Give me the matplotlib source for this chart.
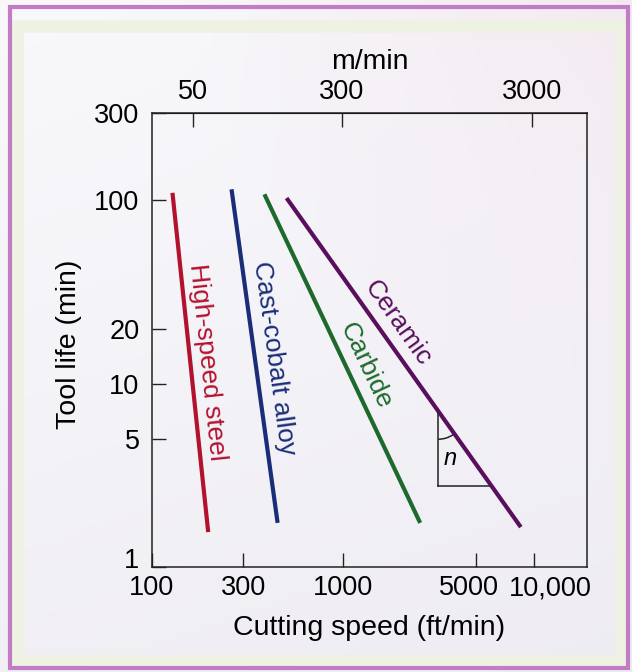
import numpy as np
import matplotlib
matplotlib.use('Agg')
import matplotlib.pyplot as plt
from matplotlib.patches import Rectangle, Arc
from matplotlib import transforms

plt.rcParams['font.family'] = ['Liberation Sans', 'DejaVu Sans']

# Taylor tool-life lines: (speed ft/min, life min) end points
materials = ['High-speed steel', 'Cast-cobalt alloy', 'Carbide', 'Ceramic']
colors = ['#b3122f', '#1b2d78', '#1d6a2c', '#5a0f5c']
speed_top = [128, 261, 388, 507]
life_top = [110, 115, 108, 103]
speed_bot = [197, 455, 2540, 8550]
life_bot = [1.55, 1.74, 1.74, 1.65]

# label anchor (speed, life) and rotation for each line label
label_speed = [195, 434, 1320, 1945]
label_life = [13.1, 13.8, 12.6, 21.4]
label_rot = [-84.1, -82.2, -64.8, -54.7]

# slope triangle on the ceramic line
tri_speed = [3162, 3162, 5860]
tri_life = [6.9, 2.77, 2.77]

xticks = [100, 300, 1000, 5000, 10000]
xticklabels = ['100', '300', '1000', '5000', '10,000']
yticks = [1, 5, 10, 20, 100, 300]
top_ticks = [50, 300, 3000]

fig = plt.figure(figsize=(6.32, 6.72), dpi=100)
fig.patch.set_facecolor('#f3f1f5')

# soft panel background
bg = fig.add_axes([0, 0, 1, 1], zorder=-10)
gy, gx = np.mgrid[0:1:200j, 0:1:200j]
c1 = np.array([0.975, 0.975, 0.985])
c2 = np.array([0.925, 0.915, 0.945])
c3 = np.array([0.955, 0.915, 0.945])
t = np.clip(0.6 * gy + 0.2 * gx, 0, 1)[..., None]
img = c1 * (1 - t) + c2 * t
w = np.clip(gx * (1 - gy) * 1.2 - 0.3, 0, 1)[..., None]
img = img * (1 - w) + c3 * w
bg.imshow(img, extent=[0, 1, 0, 1], aspect='auto', origin='upper')
bg.set_axis_off()
fig.patches.append(Rectangle((0.027, 0.016), 0.955, 0.945, transform=fig.transFigure,
                             fill=False, edgecolor='#eef2e2', linewidth=9, zorder=-5))
fig.patches.append(Rectangle((0.016, 0.006), 0.978, 0.983, transform=fig.transFigure,
                             fill=False, edgecolor='#c27cc6', linewidth=3, zorder=-4))

ax = fig.add_axes([0.2405, 0.1563, 0.6883, 0.6756])
ax.patch.set_alpha(0)
ax.set_xscale('log')
ax.set_yscale('log')
ax.set_xlim(100, 19000)
ax.set_ylim(1, 300)

for i in range(len(materials)):
    ax.plot([speed_top[i], speed_bot[i]], [life_top[i], life_bot[i]],
            color=colors[i], lw=3, solid_capstyle='butt')
    ax.text(label_speed[i], label_life[i], materials[i], color=colors[i],
            fontsize=19, rotation=label_rot[i], rotation_mode='anchor',
            ha='center', va='center')

ax.plot(tri_speed[:2], tri_life[:2], color='#222222', lw=1.1)
ax.plot(tri_speed[1:], tri_life[1:], color='#222222', lw=1.1)
arc_tr = fig.dpi_scale_trans + transforms.ScaledTranslation(tri_speed[0], tri_life[0], ax.transData)
ax.add_patch(Arc((0, 0), 0.52, 0.52, theta1=270, theta2=305, transform=arc_tr,
                 color='#222222', lw=1.1))
ax.text(3656, 3.93, 'n', fontsize=17, style='italic', ha='center', va='center')

ax.minorticks_off()
ax.set_xticks(xticks)
ax.set_xticklabels(xticklabels)
ax.set_yticks(yticks)
ax.set_yticklabels([str(v) for v in yticks])
ax.tick_params(axis='both', direction='in', length=10, width=1, labelsize=19.5,
               colors='#222222', labelcolor='black')
ax.tick_params(axis='x', pad=6)
ax.tick_params(axis='y', pad=9)
ax.minorticks_off()
for s in ax.spines.values():
    s.set_linewidth(1.1)
    s.set_color('#222222')

# nudge crowded tick labels like the original drawing
def nudge(label, dx, dy):
    label.set_transform(label.get_transform() +
                        transforms.ScaledTranslation(dx / 100, dy / 100, fig.dpi_scale_trans))

xl = ax.get_xticklabels()
nudge(xl[3], -7, 0)
nudge(xl[4], 17, 0)
nudge(ax.get_yticklabels()[0], 0, 9)

ax.set_xlabel('Cutting speed (ft/min)', fontsize=20.5)
ax.xaxis.set_label_coords(0.5, -0.105)
ax.set_ylabel('Tool life (min)', fontsize=20.5)
ax.yaxis.set_label_coords(-0.16, 0.49)

secax = ax.secondary_xaxis('top', functions=(lambda x: x * 0.3048, lambda m: m / 0.3048))
secax.set_xticks(top_ticks)
secax.set_xticklabels([str(v) for v in top_ticks])
secax.minorticks_off()
secax.tick_params(axis='x', direction='in', length=10, width=1, labelsize=19.5, pad=6,
                  colors='#222222', labelcolor='black')
fig.text(370 / 632, 1 - 62 / 672, 'm/min', fontsize=20.5, ha='center', va='center')

fig.savefig('out.png', dpi=100)
